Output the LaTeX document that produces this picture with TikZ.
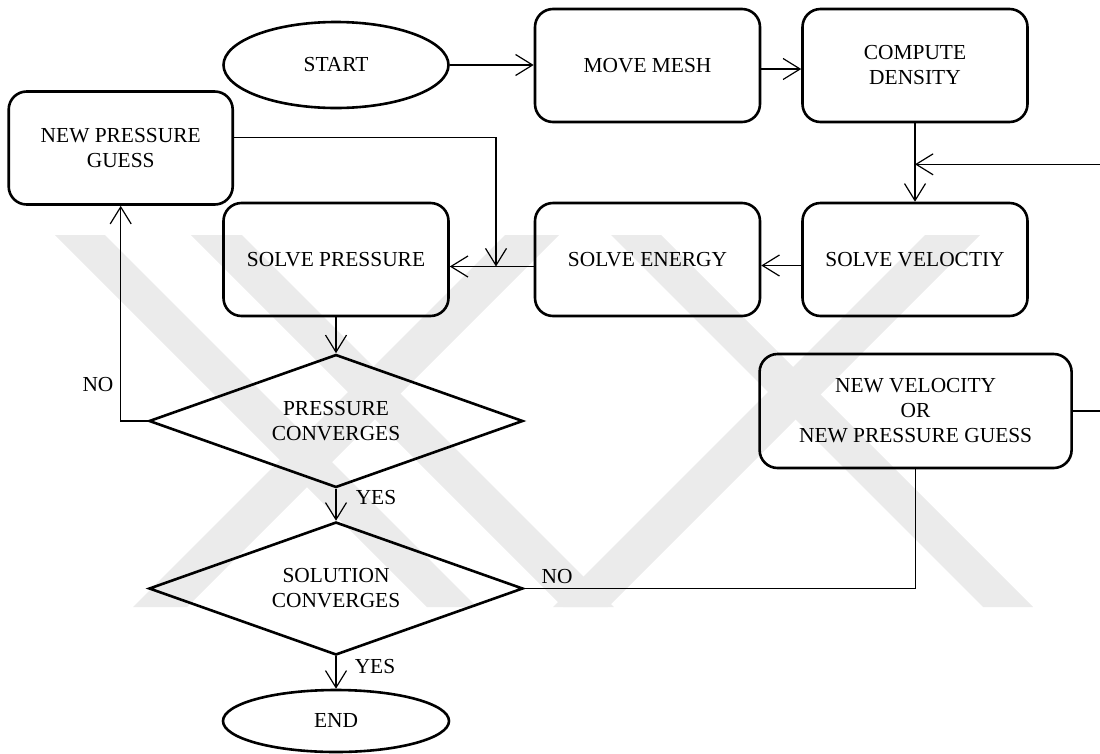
\documentclass[tikz,border=0pt]{standalone}
\usepackage{fontspec}
\setmainfont{Liberation Serif}
\usetikzlibrary{shapes.geometric,arrows.meta}
\begin{document}
\begin{tikzpicture}[x=1pt,y=-1pt,
  every node/.style={font=\fontsize{21.4pt}{25pt}\selectfont, inner sep=0pt, align=center},
  box/.style={draw, line width=2.6pt, rounded corners=18pt, minimum width=225pt, minimum height=113pt},
  term/.style={draw, ellipse, line width=2.6pt},
  dec/.style={draw, diamond, aspect=2.8, line width=2.6pt, minimum width=374pt, minimum height=133pt},
  conn/.style={line width=1.2pt},
  arr/.style={conn, -{Straight Barb[length=17pt,width=21pt]}},
  wm/.style={fill=black!8}
]
\useasboundingbox (0,0) rectangle (1100,753);
\clip (0,0) rectangle (1100,753);
% watermark bands
\fill[wm] (55,235) -- ++(50,0) -- ++(372,372) -- ++(-50,0) -- cycle;
\fill[wm] (191,235) -- ++(51,0) -- ++(372,372) -- ++(-51,0) -- cycle;
\fill[wm] (611,235) -- ++(50,0) -- ++(372,372) -- ++(-50,0) -- cycle;
\fill[wm] (505,235) -- ++(54,0) -- ++(-372,372) -- ++(-54,0) -- cycle;
\fill[wm] (925,235) -- ++(55,0) -- ++(-372,372) -- ++(-55,0) -- cycle;
% nodes
\node[term, minimum width=225pt, minimum height=86pt] (start) at (336,65) {START};
\node[box] (mm) at (647.5,65.5) {MOVE MESH};
\node[box] (cd) at (915,65.5) {COMPUTE\\DENSITY};
\node[box, minimum width=224pt] (npg) at (120.7,148) {NEW PRESSURE\\GUESS};
\node[box] (sp) at (336,259.5) {SOLVE PRESSURE};
\node[box] (se) at (647.5,259.5) {SOLVE ENERGY};
\node[box] (sv) at (915,259.5) {SOLVE VELOCTIY};
\node[dec] (pc) at (336,421) {PRESSURE\\CONVERGES};
\node[dec] (sc) at (336,588.5) {SOLUTION\\CONVERGES};
\node[term, minimum width=226pt, minimum height=62pt] (end) at (336,721) {END};
\node[box, minimum width=312pt, minimum height=114pt] (nv) at (915.6,411) {NEW VELOCITY\\OR\\NEW PRESSURE GUESS};
% labels
\node (no1) at (98,385) {NO};
\node (yes1) at (376,498) {YES};
\node (yes2) at (375,667) {YES};
\node (no2) at (557,577) {NO};
% helper coordinates
\coordinate (j1) at (496,266.5);
\coordinate (r1) at (1110,411);
\coordinate (r2) at (1110,164.3);
\coordinate (k1) at (915,164.3);
% connectors
\draw[arr] (start.east) -- (start.east -| mm.west);
\draw[arr] ([yshift=-3.5pt]mm.east) -- ([yshift=-3.5pt]cd.west);
\draw[arr] (cd.south) -- (sv.north);
\draw[arr] (nv.east) -- (r1) -- (r2) -- (k1);
\draw[arr] ([yshift=-6pt]sv.west) -- ([yshift=-6pt]se.east);
\draw[arr] ([yshift=-7pt]se.west) -- ([yshift=-7pt]sp.east);
\draw[arr] ([yshift=10.3pt]npg.east) -| (j1);
\draw[arr] (sp.south) -- (pc.north);
\draw[arr] (pc.west) -| (npg.south);
\draw[arr] (pc.south) -- (sc.north);
\draw[arr] (sc.south) -- (end.north);
\draw[conn] (sc.east) -| (nv.south);
\end{tikzpicture}
\end{document}
